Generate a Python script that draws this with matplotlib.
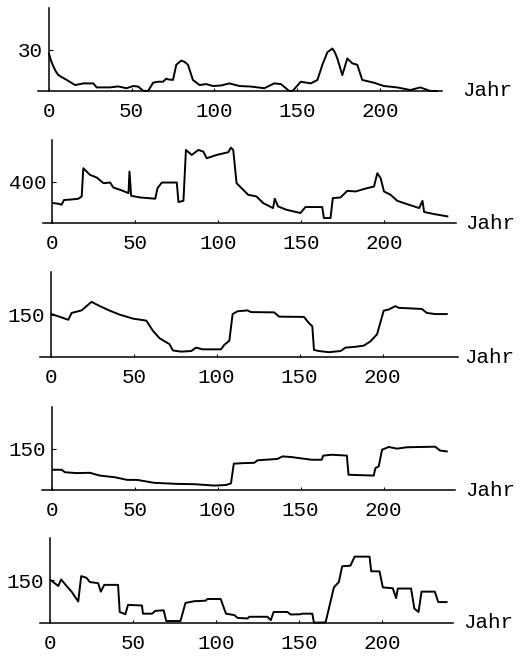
import matplotlib
matplotlib.use('Agg')
import matplotlib.pyplot as plt

# Panel 1 (tick 30, range 0..60)
x1 = [0.3, 1.5, 3, 4.5, 6, 8, 11, 13, 16, 21, 27, 29, 37, 42, 47, 51, 54, 57, 60, 63, 66, 69,
      71, 72, 75, 77, 80, 82, 84, 87, 91, 95, 99, 104, 109, 115, 122, 130, 136, 140, 145, 147,
      152, 158, 162, 165, 168, 171, 172.5, 174, 177, 180, 183, 186, 189, 196, 202, 210, 218,
      224, 230, 234]
y1 = [27, 22, 17.5, 14, 11.5, 10, 8, 6.5, 4.3, 5.5, 5.5, 2.6, 2.6, 3.3, 2, 3.6, 3.2, 0.2, 0, 6,
      6.7, 6.7, 9, 8.4, 8, 19, 22, 21, 19, 8, 4.3, 5, 3.6, 4, 5.5, 3.6, 3.2, 2, 5.5, 5, 0, 0,
      6.7, 5.5, 8, 19, 28, 30.7, 28, 23.5, 11.5, 23.5, 20, 19, 8, 6, 3.6, 2.6, 0.7, 2.6, 0, 0]

# Panel 2 (tick 400, range 0..800)
x2 = [0.6, 3.6, 5.6, 7, 11.7, 15.7, 17.7, 18.7, 22.7, 26.8, 30.8, 34.8, 36.8, 41.9, 45.9,
      46.5, 47.5, 53, 62, 63.4, 66, 75, 76, 79, 80.5, 84, 88, 91, 93, 99, 106, 107.6, 109,
      111, 114, 118, 123, 127, 133, 134, 136, 141, 149.5, 152.5, 162.6, 163.6, 167.6, 169,
      173.6, 177.7, 182.7, 189.7, 193.8, 195.8, 197.8, 199.8, 203.8, 207.8, 212.9, 221, 223,
      224, 230, 238]
y2 = [192, 186, 176, 221, 227, 234, 256, 528, 464, 438, 384, 390, 342, 314, 288, 496, 262,
      246, 234, 336, 390, 390, 202, 214, 704, 656, 704, 688, 624, 656, 682, 726, 704, 384,
      336, 272, 256, 192, 144, 234, 160, 128, 96, 154, 154, 48, 48, 240, 246, 310, 304, 336,
      352, 480, 432, 304, 272, 214, 186, 144, 214, 106, 86, 64]

# Panel 3 (tick 150, range 0..300)
x3 = [0.6, 4.6, 10.6, 12.6, 18.6, 24.6, 29.6, 35.6, 41.6, 49.6, 57.6, 61.6, 65.6, 71.6,
      73.6, 78.6, 84.6, 87.6, 91.6, 102.6, 104.6, 107.6, 109.6, 112.6, 118.6, 120.6, 134.6,
      137.6, 152.6, 155.6, 157.6, 158.6, 161.6, 167.6, 174.6, 177.6, 183.6, 188.6, 192.6,
      196.6, 200.6, 203.6, 207.6, 209.6, 223.6, 226.6, 231.6, 238.6]
y3 = [152, 144, 132, 156, 165, 195, 180, 164, 150, 136, 129, 93, 67, 46, 24, 20, 22, 34, 28,
      28, 44, 58, 152, 162, 165, 159, 158, 143, 142, 120, 109, 26, 22, 18, 22, 34, 37, 41, 56,
      81, 164, 168, 180, 174, 170, 156, 152, 152]

# Panel 4 (tick 150, range 0..300)
x4 = [0.6, 6, 8, 15, 23, 29, 38, 45.5, 51.5, 61.6, 75.8, 85.9, 98, 105, 108, 109.7, 116,
      122, 124, 136, 139, 144, 156.6, 162.6, 163.6, 168.7, 177.8, 178.8, 194, 195, 197, 199,
      203, 208, 214, 231, 234, 238]
y4 = [74, 74, 65, 62, 63, 53, 47, 37.5, 37.5, 27, 23, 22, 17, 19, 25, 96, 98, 99, 108,
      113, 122, 120, 110, 110, 125, 128, 125, 56, 53, 80, 86, 146, 156, 150, 155, 157, 143, 140]

# Panel 5 (tick 150, range 0..300)
x5 = [0.4, 5, 6.7, 10, 13, 17, 18.8, 22, 24, 29, 30.6, 32.7, 41, 42, 45.4, 47, 55.4, 56,
      61.5, 63.5, 68.5, 70, 78.6, 81.6, 86.7, 93.8, 94.8, 102.8, 106, 111, 113, 119, 120,
      131, 133, 134.7, 143, 145, 151, 152, 158, 159, 166, 168, 171, 174, 176, 181, 183.5,
      192.5, 193.5, 198.5, 200.5, 206.5, 208.5, 209.5, 217.5, 219.5, 222, 223.8, 231.8,
      233.9, 238.9]
y5 = [151, 130, 153, 130, 110, 75, 165, 159, 144, 140, 110, 134, 134, 38, 30, 63, 61, 32,
      32, 42, 44, 6, 6, 70, 76, 78, 84, 84, 32, 27, 17, 15, 21, 21, 9, 38, 38, 29, 30, 32, 32,
      0, 1, 50, 125, 144, 200, 202, 234, 234, 182, 182, 125, 122, 87, 121, 121, 50, 38, 110,
      110, 73, 73]

panels = [(x1, y1, 60, 30), (x2, y2, 800, 400), (x3, y3, 300, 150),
          (x4, y4, 300, 150), (x5, y5, 300, 150)]

# pixel layout: axis line start, end, y-axis x, x-axis y, top of y-axis
boxes = [(38, 442, 48.5, 91, 8),
         (43, 456, 52.3, 223, 140),
         (40, 458, 50.7, 357.3, 272),
         (41.7, 455, 51.7, 490.3, 407),
         (40, 453, 50, 622.7, 538)]

W, H = 528, 659
fig = plt.figure(figsize=(W / 100, H / 100), dpi=100)
plt.rcParams['font.family'] = 'Liberation Mono'

for (xs, ys, ymax, ytick), (px0, px1, pyax, pbot, ptop) in zip(panels, boxes):
    ax = fig.add_axes([px0 / W, 1 - pbot / H, (px1 - px0) / W, (pbot - ptop) / H])
    s = 1.66
    ax.set_xlim((px0 - pyax) / s, (px1 - pyax) / s)
    ax.set_ylim(0, ymax)
    ax.plot(xs, ys, color='black', lw=1.4, clip_on=False)
    for side in ['top', 'right']:
        ax.spines[side].set_visible(False)
    ax.spines['left'].set_position(('data', 0))
    for side in ['left', 'bottom']:
        ax.spines[side].set_linewidth(1.1)
    ax.set_xticks([0, 50, 100, 150, 200])
    ax.set_yticks([ytick])
    ax.tick_params(axis='x', direction='in', length=2.5, width=0.8, pad=8, labelsize=15)
    ax.tick_params(axis='y', direction='in', length=3, width=0.8, pad=4, labelsize=15)
    ax.patch.set_visible(False)
    ax.text(249, 0, 'Jahr', fontsize=15, ha='left', va='center', clip_on=False)

fig.savefig('out.png', dpi=100)
